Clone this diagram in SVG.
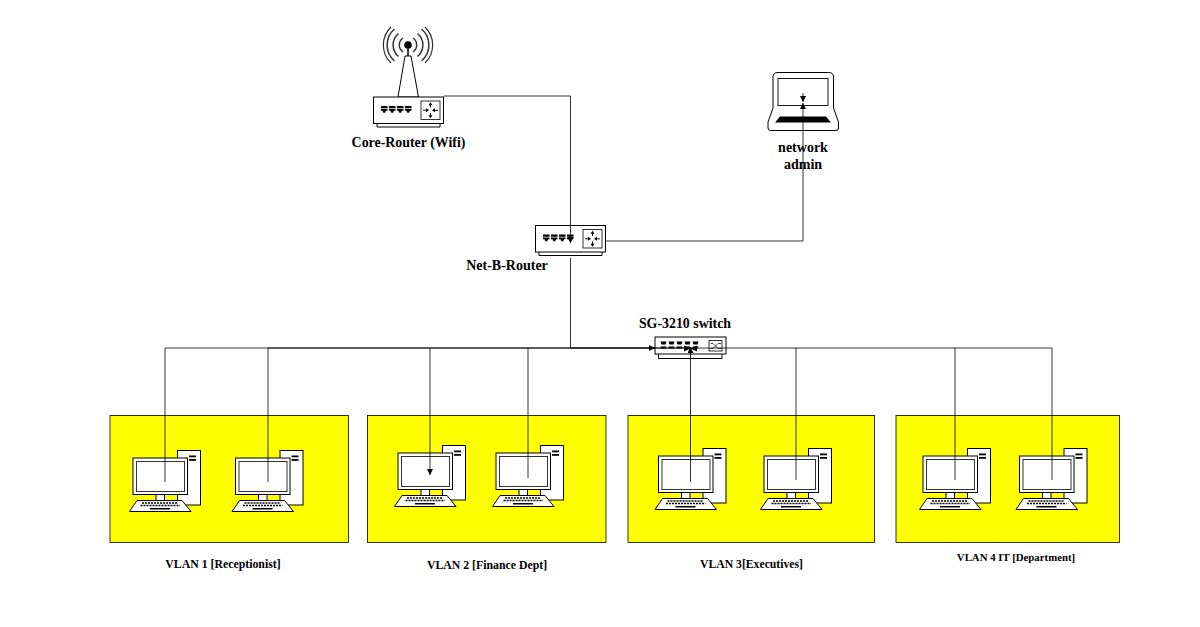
<svg xmlns="http://www.w3.org/2000/svg" xmlns:xlink="http://www.w3.org/1999/xlink" width="1200" height="627" viewBox="0 0 1200 627">
<style>
.t{font-family:"Liberation Serif","Times New Roman",serif;font-weight:700;fill:#000;text-anchor:middle}
.o{fill:#fff;stroke:#000;stroke-width:1}
.c{fill:none;stroke:#000;stroke-width:.8}
.z{fill:#ff0;stroke:#000;stroke-width:.8}
</style>
<defs>
<marker id="a" markerWidth="8" markerHeight="8" refX="6" refY="3" orient="auto" markerUnits="userSpaceOnUse"><path d="M0 0L6 3L0 6z" fill="#000"/></marker>
<symbol id="pc" overflow="visible" width="72" height="56">
<rect class="o" x="44.500" y="-7.500" width="23" height="54.500"/>
<rect x="56" y="-2.500" width="7" height="1.800" fill="#000"/><rect x="56" y="1" width="7" height="1.800" fill="#000"/>
<rect class="o" x="0" y="0" width="54.500" height="36.500"/>
<rect x="3.500" y="3.500" width="48" height="30" fill="#fff" stroke="#333" stroke-width="1"/>
<rect class="o" x="23" y="36.500" width="8.500" height="6"/>
<path class="o" d="M4 42.500H49L58 53.500H-3.500z"/>
<path d="M9 45H45M7.500 47.500H47" stroke="#000" stroke-width="1.600" stroke-dasharray="2 1" fill="none"/>
<rect x="17" y="50" width="20" height="1.500" fill="#000"/>
</symbol>
<path id="port" d="M0 0H6.500V2.300H0zM0 3H6.500V4.800H5L4.200 6.800H2.300L1.500 4.800H0z" fill="#000"/>
<symbol id="ports" overflow="visible" width="31" height="8">
<use href="#port" xlink:href="#port" x="0"/><use href="#port" xlink:href="#port" x="8"/><use href="#port" xlink:href="#port" x="16"/><use href="#port" xlink:href="#port" x="24"/>
</symbol>
<symbol id="router" overflow="visible" width="72" height="34">
<path class="o" d="M4 27V30.500H67V27"/>
<rect class="o" x=".5" y=".5" width="70" height="26.500"/>
<use xlink:href="#ports" href="#ports" x="8" y="9.500"/>
<rect x="48" y="4.500" width="19" height="18.500" fill="#fff" stroke="#000" stroke-width=".8"/>
<path d="M57.500 7V11M57.500 16.500V20.500M50 13.800H55M60 13.800H65" stroke="#000" stroke-width=".9" fill="none"/>
<path d="M57.500 5.800l-2 3h4zM57.500 21.800l-2-3h4zM56 13.800l-3-2v4zM59 13.800l3-2v4z" fill="#000"/>
</symbol>
</defs>

<g id="zones">
<rect id="vlan1" class="z" x="110" y="415.500" width="238.500" height="127"/>
<rect id="vlan2" class="z" x="367.500" y="415.500" width="238.500" height="127"/>
<rect id="vlan3" class="z" x="628" y="415.500" width="246.500" height="127"/>
<rect id="vlan4" class="z" x="896" y="415.500" width="223.500" height="127"/>
</g>

<g id="core-router">
<g fill="none" stroke="#333" stroke-width="1.500">
<path d="M403 38a8.500 8.500 0 0 0 0 14M413 38a8.500 8.500 0 0 1 0 14"/>
<path d="M398.500 33.500a15 15 0 0 0 0 23M417.500 33.500a15 15 0 0 1 0 23"/>
<path d="M394.500 29a21 21 0 0 0 0 32M421.500 29a21 21 0 0 1 0 32"/>
<path d="M391 27a25 25 0 0 0 0 36M425 27a25 25 0 0 1 0 36" stroke-width="1.200"/>
</g>
<path d="M408 48V56" stroke="#000" stroke-width="1.500"/>
<circle cx="408" cy="45" r="3.800" fill="#000"/>
<path class="o" d="M405 56H411L418.500 97H398z"/>
<use href="#router" xlink:href="#router" x="373" y="96.500"/>
</g>

<g id="net-b-router"><use href="#router" xlink:href="#router" x="535" y="225"/></g>

<g id="switch">
<path class="o" d="M658.500 353.500V358.500H722V353.500"/>
<rect class="o" x="655" y="337" width="71" height="17"/>
<path d="M660.500 341.500h6l-1 3h-4zM668.500 341.500h6l-1 3h-4zM676.500 341.500h6l-1 3h-4zM684.500 341.500h6l-1 3h-4zM692.500 341.500h6l-1 3h-4z" fill="#000"/>
<path d="M660.500 346.500h6l-1 2h-4zM668.500 346.500h6l-1 2h-4zM676.500 346.500h6l-1 2h-4zM684.500 346.500h6l-1 2h-4zM692.500 346.500h6l-1 2h-4z" fill="#000"/>
<rect x="709" y="340.500" width="13" height="10.500" fill="#fff" stroke="#000" stroke-width=".8"/>
<path d="M710.500 343.500H713L718 348.500H721M710.500 348.500H713L718 343.500H721" stroke="#000" stroke-width=".7" fill="none"/>
</g>

<g id="admin-laptop">
<path class="o" d="M773 108V77Q773 72.500 778 72.500H828.500Q833.500 72.500 833.500 77V108L838.500 122V128Q838.500 130.500 836 130.500H770.500Q768 130.500 768 128V122z"/>
<rect x="778" y="78.500" width="50" height="27" fill="#fff" stroke="#000" stroke-width=".9"/>
<path d="M780 116.500H826L831 122.500H775z" fill="#000"/>
</g>

<g id="pcs">
<use id="pc1" href="#pc" xlink:href="#pc" x="133" y="458"/>
<use id="pc2" href="#pc" xlink:href="#pc" x="235.500" y="458"/>
<use id="pc3" href="#pc" xlink:href="#pc" x="398" y="453"/>
<use id="pc4" href="#pc" xlink:href="#pc" x="496" y="453"/>
<use id="pc5" href="#pc" xlink:href="#pc" x="658.500" y="456"/>
<use id="pc6" href="#pc" xlink:href="#pc" x="764" y="456"/>
<use id="pc7" href="#pc" xlink:href="#pc" x="923" y="456"/>
<use id="pc8" href="#pc" xlink:href="#pc" x="1019.500" y="456"/>
</g>

<g id="connectors">
<path class="c" d="M444 96H570.500V243" marker-end="url(#a)"/>
<path class="c" d="M606 241H803V103" marker-end="url(#a)"/>
<path class="c" d="M803 93V102" marker-end="url(#a)"/>
<path class="c" d="M570.500 258V348H655" marker-end="url(#a)"/>
<path class="c" d="M165 482V348H690.500"/>
<path class="c" d="M268 482V348H690.500"/>
<path class="c" d="M430 348V475" marker-end="url(#a)"/>
<path class="c" d="M528 348V478"/>
<path class="c" d="M690.500 482V347" marker-end="url(#a)"/>
<path class="c" d="M690.500 348H1052V480"/>
<path class="c" d="M796 348V480"/>
<path class="c" d="M955 348V480"/>
<path d="M690.500 348.500L684 345.500V351.500zM690.500 348.500L697 345.500V351.500z" fill="#000"/>
</g>

<g id="labels">
<text class="t" x="408.500" y="147" font-size="13.900">Core-Router (Wifi)</text>
<text class="t" x="803" y="152" font-size="14">network</text>
<text class="t" x="803" y="169" font-size="14">admin</text>
<text class="t" x="507" y="270" font-size="14">Net-B-Router</text>
<text class="t" x="685" y="328" font-size="13.900">SG-3210 switch</text>
<text class="t" x="223" y="568" font-size="11.800">VLAN 1 [Receptionist]</text>
<text class="t" x="487" y="569" font-size="11.800">VLAN 2 [Finance Dept]</text>
<text class="t" x="751.500" y="568" font-size="11.700">VLAN 3[Executives]</text>
<text class="t" x="1016" y="561" font-size="10.800">VLAN 4 IT [Department]</text>
</g>
</svg>
